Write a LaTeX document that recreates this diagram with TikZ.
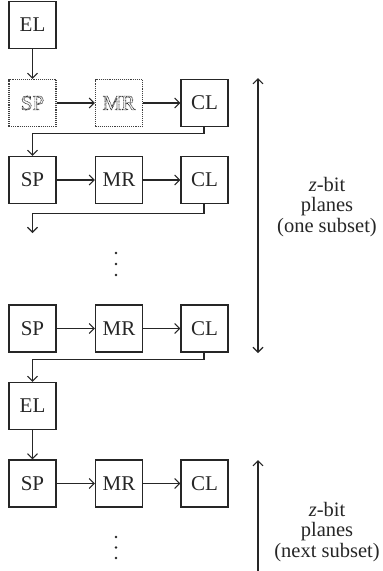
\documentclass[tikz,border=0pt]{standalone}
\usepackage{fontspec}
\setmainfont{Liberation Serif}
\usetikzlibrary{arrows.meta}
\newcommand{\hollowtext}[1]{\special{pdf:literal q 1 Tr 0.7 w [0.8 0.6] 0 d}#1\special{pdf:literal Q}}
\tikzset{
  blk/.style={draw=black!85, line width=1.1pt, minimum width=47pt, minimum height=47pt, inner sep=0pt, font=\fontsize{21}{22}\selectfont, text=black!85},
  dblk/.style={blk, draw=black!75, densely dotted, line width=1.1pt},
  conn/.style={draw=black!85, line width=1.1pt, -{Straight Barb[length=5pt,width=10pt,line width=1.1pt]}},
  dconn/.style={conn, {Straight Barb[length=5pt,width=10pt,line width=1.1pt]}-{Straight Barb[length=5pt,width=10pt,line width=1.1pt]}},
  side/.style={align=center, font=\fontsize{20.5}{20.5}\selectfont, text=black!85},
  vdot/.style={fill=black!85, circle, inner sep=0pt, minimum size=2.8pt}
}
\begin{document}
\begin{tikzpicture}[x=1pt,y=-1pt]
\useasboundingbox (0,0) rectangle (383,571);
% nodes
\node[blk] (el1) at (32.5,25) {EL};
\node[dblk] (sp1) at (32.5,103) {\hollowtext{SP}};
\node[dblk] (mr1) at (119,103) {\hollowtext{MR}};
\node[blk] (cl1) at (204.5,103) {CL};
\node[blk] (sp2) at (32.5,180) {SP};
\node[blk] (mr2) at (119,180) {MR};
\node[blk] (cl2) at (204.5,180) {CL};
\coordinate (free2) at (32.5,233);
\node[vdot] (d1) at (116,253) {};
\node[vdot] (d2) at (116,264) {};
\node[vdot] (d3) at (116,275) {};
\node[blk] (sp3) at (32.5,328.5) {SP};
\node[blk] (mr3) at (119,328.5) {MR};
\node[blk] (cl3) at (204.5,328.5) {CL};
\node[blk] (el2) at (32.5,406) {EL};
\node[blk] (sp4) at (32.5,483.5) {SP};
\node[blk] (mr4) at (119,483.5) {MR};
\node[blk] (cl4) at (204.5,483.5) {CL};
\node[vdot] (e1) at (116,537) {};
\node[vdot] (e2) at (116,547.5) {};
\node[vdot] (e3) at (116,558) {};
% side arrows
\coordinate (a1t) at (258,78);
\coordinate (a1b) at (258,353);
\coordinate (a2t) at (258,460);
\coordinate (a2b) at (258,571);
\draw[dconn] (a1t) -- (a1b);
\draw[conn] (a2b) -- (a2t);
\node[side] (t1) at (327,207) {\textit{z}-bit\\planes\\(one subset)};
\node[side] (t2) at (327,532) {\textit{z}-bit\\planes\\(next subset)};
% connectors
\draw[conn] (el1) -- (sp1);
\draw[conn] (sp1) -- (mr1);
\draw[conn] (mr1) -- (cl1);
\draw[conn] ([xshift=-0.5pt]cl1.south) |- ++(0,6) -| (sp2.north);
\draw[conn] (sp2) -- (mr2);
\draw[conn] (mr2) -- (cl2);
\draw[conn] ([xshift=-0.5pt]cl2.south) |- ++(0,9) -| (free2);
\draw[conn] (sp3) -- (mr3);
\draw[conn] (mr3) -- (cl3);
\draw[conn] ([xshift=-0.5pt]cl3.south) |- ++(0,7) -| (el2.north);
\draw[conn] (el2) -- (sp4);
\draw[conn] (sp4) -- (mr4);
\draw[conn] (mr4) -- (cl4);
\end{tikzpicture}
\end{document}
